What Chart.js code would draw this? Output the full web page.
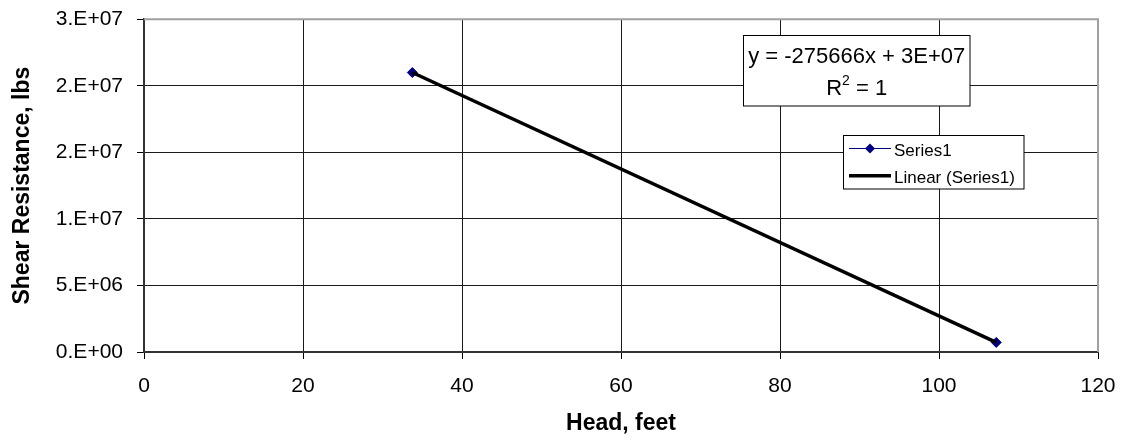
<!DOCTYPE html>
<html><head><meta charset="utf-8">
<script src="https://cdn.jsdelivr.net/npm/chart.js@4.4.0/dist/chart.umd.min.js"></script>
<style>html,body{margin:0;padding:0;background:#fff}canvas{display:block}</style>
</head><body>
<canvas id="c" width="1122" height="443"></canvas>
<script>
// ---- data ----
const headFeet = [33.75, 107.2];
const shearLbs = [2.10e7, 7.2e5];
const xTickValues = [0, 20, 40, 60, 80, 100, 120];
const xTickLabels = ['0', '20', '40', '60', '80', '100', '120'];
const yTickValues = [0, 5e6, 1e7, 1.5e7, 2e7, 2.5e7];
const yTickLabels = ['0.E+00', '5.E+06', '1.E+07', '2.E+07', '2.E+07', '3.E+07'];
const seriesName = 'Series1';
const trendName = 'Linear (Series1)';
const equationText = 'y = -275666x + 3E+07';
const r2Parts = ['R', '2', ' = 1'];
const xTitle = 'Head, feet';
const yTitle = 'Shear Resistance, lbs';

const FF = '"Liberation Sans", Arial, sans-serif';
const NAVY = '#000080';

const points = headFeet.map((x, i) => ({x: x, y: shearLbs[i]}));

const framePlugin = {
  id: 'frame',
  beforeDatasetsDraw(chart) {
    const {ctx, chartArea: a} = chart;
    ctx.save();
    ctx.strokeStyle = '#a0a0a0';
    ctx.lineWidth = 2;
    ctx.beginPath();
    ctx.moveTo(a.left, a.top);
    ctx.lineTo(a.right, a.top);
    ctx.lineTo(a.right, a.bottom);
    ctx.stroke();
    ctx.restore();
  }
};

const boxesPlugin = {
  id: 'boxes',
  afterDraw(chart) {
    const ctx = chart.ctx;
    ctx.save();
    // equation box
    ctx.fillStyle = '#fff';
    ctx.strokeStyle = '#000';
    ctx.lineWidth = 1;
    ctx.fillRect(743.5, 35.5, 226.5, 70.5);
    ctx.strokeRect(743.5, 35.5, 226.5, 70.5);
    ctx.fillStyle = '#000';
    ctx.textBaseline = 'alphabetic';
    ctx.textAlign = 'center';
    ctx.font = '22px ' + FF;
    const cx = 856.7;
    ctx.fillText(equationText, cx, 62.5);
    ctx.textAlign = 'left';
    const wR = ctx.measureText(r2Parts[0]).width;
    const wRest = ctx.measureText(r2Parts[2]).width;
    ctx.font = '14px ' + FF;
    const w2 = ctx.measureText(r2Parts[1]).width;
    const total = wR + w2 + wRest;
    const x0 = cx - total / 2;
    ctx.font = '22px ' + FF;
    ctx.fillText(r2Parts[0], x0, 95);
    ctx.font = '14px ' + FF;
    ctx.fillText(r2Parts[1], x0 + wR, 85);
    ctx.font = '22px ' + FF;
    ctx.fillText(r2Parts[2], x0 + wR + w2, 95);

    // legend box
    ctx.fillStyle = '#fff';
    ctx.strokeStyle = '#000';
    ctx.lineWidth = 1;
    ctx.fillRect(843.5, 135.5, 180.5, 53.5);
    ctx.strokeRect(843.5, 135.5, 180.5, 53.5);
    const ds = chart.data.datasets;
    ctx.strokeStyle = ds[0].borderColor;
    ctx.lineWidth = ds[0].borderWidth;
    ctx.beginPath();
    ctx.moveTo(849, 148.5);
    ctx.lineTo(891, 148.5);
    ctx.stroke();
    ctx.fillStyle = ds[0].pointBackgroundColor;
    ctx.beginPath();
    ctx.moveTo(870, 143.5);
    ctx.lineTo(875, 148.5);
    ctx.lineTo(870, 153.5);
    ctx.lineTo(865, 148.5);
    ctx.closePath();
    ctx.fill();
    ctx.strokeStyle = ds[1].borderColor;
    ctx.lineWidth = ds[1].borderWidth;
    ctx.beginPath();
    ctx.moveTo(849, 175.7);
    ctx.lineTo(891, 175.7);
    ctx.stroke();
    ctx.fillStyle = '#000';
    ctx.font = '17px ' + FF;
    ctx.textAlign = 'left';
    ctx.textBaseline = 'alphabetic';
    ctx.fillText(ds[0].label, 894, 155.7);
    ctx.fillText(ds[1].label, 894, 182.5);
    ctx.restore();
  }
};

new Chart(document.getElementById('c'), {
  type: 'scatter',
  data: {
    datasets: [
      {label: seriesName, data: points, showLine: true, borderColor: NAVY, borderWidth: 1, pointStyle: 'rectRot', pointRadius: 5, pointBackgroundColor: NAVY, pointBorderColor: NAVY, order: 2},
      {label: trendName, data: points, showLine: true, borderColor: '#000', borderWidth: 3.5, pointRadius: 0, order: 1}
    ]
  },
  options: {
    responsive: false,
    animation: false,
    devicePixelRatio: 1,
    layout: {padding: {top: 19.3, right: 24, left: 0, bottom: 0}},
    plugins: {legend: {display: false}, tooltip: {enabled: false}},
    scales: {
      x: {
        type: 'linear', min: 0, max: 120,
        afterBuildTicks: s => { s.ticks = xTickValues.map(v => ({value: v})); },
        ticks: {callback: (v, i) => xTickLabels[i], font: {family: FF, size: 21}, color: '#000', padding: 15, maxRotation: 0, autoSkip: false},
        grid: {color: '#1a1a1a', lineWidth: 1, tickLength: 7, tickColor: '#000'},
        border: {color: '#333', width: 2},
        title: {display: true, text: xTitle, color: '#000', font: {family: FF, size: 23, weight: 'bold'}, padding: {top: 0, bottom: 6}},
        afterFit: s => { s.height = 91; s.paddingLeft = 0; s.paddingRight = 0; }
      },
      y: {
        type: 'linear', min: 0, max: 2.5e7,
        afterBuildTicks: s => { s.ticks = yTickValues.map(v => ({value: v})); },
        ticks: {callback: (v, i) => yTickLabels[i], font: {family: FF, size: 21}, color: '#000', padding: 14, autoSkip: false},
        grid: {color: '#1a1a1a', lineWidth: 1, tickLength: 7, tickColor: '#000'},
        border: {color: '#333', width: 2},
        title: {display: true, text: yTitle, color: '#000', font: {family: FF, size: 23, weight: 'bold'}, padding: {top: 9, bottom: 0}},
        afterFit: s => { s.width = 144; s.paddingTop = 0; s.paddingBottom = 0; }
      }
    }
  },
  plugins: [framePlugin, boxesPlugin]
});
</script>
</body></html>
